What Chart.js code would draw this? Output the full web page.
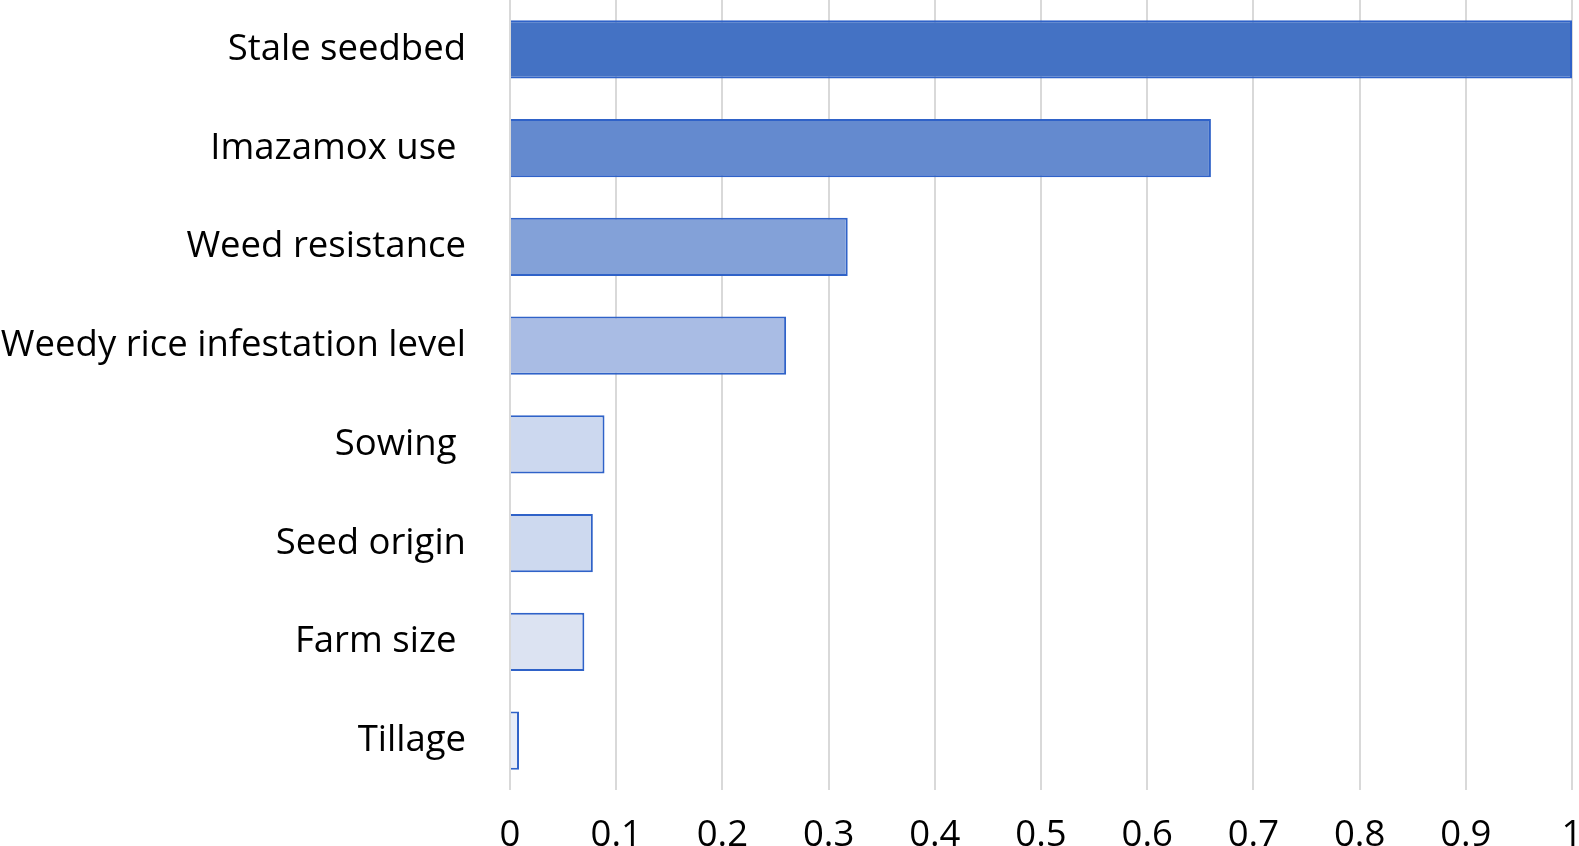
<!DOCTYPE html>
<html>
<head>
<meta charset="utf-8">
<script src="https://cdn.jsdelivr.net/npm/chart.js@4"></script>
<style>
  html, body { margin: 0; padding: 0; background: #fff; overflow: hidden; }
  canvas { display: block; }
</style>
</head>
<body>
<canvas id="factorChart" width="1579" height="846"></canvas>
<script>
// categories and values
const factors = ['Stale seedbed', 'Imazamox use ', 'Weed resistance', 'Weedy rice infestation level',
                 'Sowing ', 'Seed origin', 'Farm size ', 'Tillage'];
const importance = [1.0, 0.66, 0.318, 0.26, 0.089, 0.078, 0.07, 0.0085];
const fills = ['#4472C4', '#648ACF', '#83A1D8', '#A9BCE4', '#CCD8EF', '#CDD9EF', '#DCE3F2', '#E8EDF8'];
const xTicks = [0, 0.1, 0.2, 0.3, 0.4, 0.5, 0.6, 0.7, 0.8, 0.9, 1];

const font = { family: '"Open Sans", Lato, sans-serif', size: 36.5 };

const ctx = document.getElementById('factorChart').getContext('2d');
new Chart(ctx, {
    type: 'bar',
    data: {
        labels: factors,
        datasets: [{
            data: importance,
            backgroundColor: fills,
            borderColor: '#2F62C8',
            borderWidth: 2,
            barPercentage: 0.59,
            categoryPercentage: 1.0
        }]
    },
    options: {
        indexAxis: 'y',
        responsive: false,
        devicePixelRatio: 1,
        animation: false,
        layout: { padding: { left: 0, right: 7, top: 0, bottom: 0 } },
        plugins: { legend: { display: false }, tooltip: { enabled: false } },
        scales: {
            x: {
                min: 0,
                max: 1,
                afterBuildTicks: axis => { axis.ticks = xTicks.map(v => ({ value: v })); },
                afterFit: axis => {
                    axis.height = 56;
                    axis.paddingLeft = 0;
                    axis.paddingRight = 0;
                },
                grid: { color: '#D9D9D9', lineWidth: 2, drawTicks: false },
                border: { display: false },
                ticks: {
                    color: '#000',
                    font: font,
                    padding: 24,
                    maxRotation: 0,
                    autoSkip: false,
                    callback: v => String(Math.round(v * 10) / 10)
                }
            },
            y: {
                afterFit: axis => {
                    axis.width = 510;
                    axis.paddingTop = 0;
                    axis.paddingBottom = 0;
                },
                grid: { display: false },
                border: { display: false },
                ticks: { color: '#000', font: font, padding: 36 }
            }
        }
    }
});
</script>
</body>
</html>
